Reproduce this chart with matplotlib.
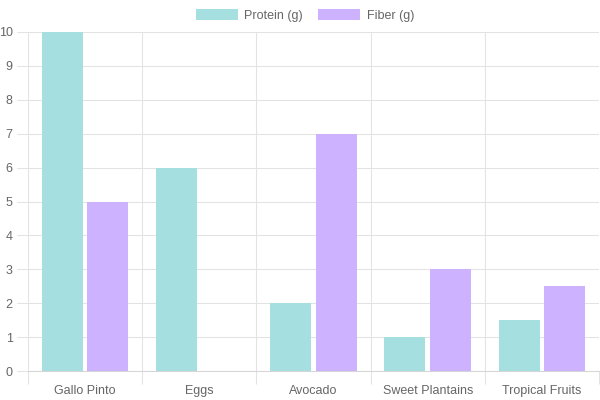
import matplotlib
matplotlib.use("Agg")
import matplotlib.pyplot as plt
from matplotlib.patches import Patch
import numpy as np

categories = ["Gallo Pinto", "Eggs", "Avocado", "Sweet Plantains", "Tropical Fruits"]
protein = [10, 6, 2, 1, 1.5]
fiber = [5, 0, 7, 3, 2.5]

teal = "#a5dfdf"
purple = "#ccb2ff"
grid_c = "#e3e3e3"
text_c = "#666666"

plt.rcParams["font.family"] = ["Liberation Sans", "DejaVu Sans"]

fig = plt.figure(figsize=(6, 4), dpi=100)
ax = fig.add_axes([28 / 600, 29 / 400, 571 / 600, 339 / 400])

x = np.arange(len(categories))
slot = 0.8 / 2
bw = slot * 0.9
ax.bar(x - slot / 2, protein, width=bw, color=teal, zorder=2)
ax.bar(x + slot / 2, fiber, width=bw, color=purple, zorder=2)

ax.set_xlim(-0.5, len(categories) - 0.5)
ax.set_ylim(0, 10)
ax.set_yticks(range(0, 11))

# vertical grid lines on category boundaries
ax.set_xticks(np.arange(-0.5, len(categories), 1.0), minor=False)
ax.set_xticklabels([""] * (len(categories) + 1))
ax.set_xticks(x, minor=True)
ax.set_xticklabels(categories, minor=True)
ax.tick_params(axis="x", which="minor", length=0, pad=10, labelsize=9, labelcolor=text_c)
ax.tick_params(axis="x", which="major", length=9, color=grid_c, width=0.75)
ax.tick_params(axis="y", length=8, color=grid_c, width=0.75, pad=3, labelsize=9, labelcolor=text_c)

ax.grid(True, which="major", color=grid_c, linewidth=0.75, zorder=0)
for s in ["top", "right"]:
    ax.spines[s].set_visible(False)
ax.spines["left"].set_color(grid_c)
ax.spines["left"].set_linewidth(0.75)
ax.spines["bottom"].set_color("#d6d6d6")
ax.spines["bottom"].set_linewidth(0.75)

handles = [Patch(facecolor=teal, label="Protein (g)"),
           Patch(facecolor=purple, label="Fiber (g)")]
fig.legend(handles=handles, loc="upper center", bbox_to_anchor=(0.508, 1.005), ncol=2,
           frameon=False, fontsize=9, labelcolor=text_c, handlelength=3.4,
           handleheight=1.0, handletextpad=0.5, columnspacing=1.2)

fig.savefig("out.png", dpi=100)
